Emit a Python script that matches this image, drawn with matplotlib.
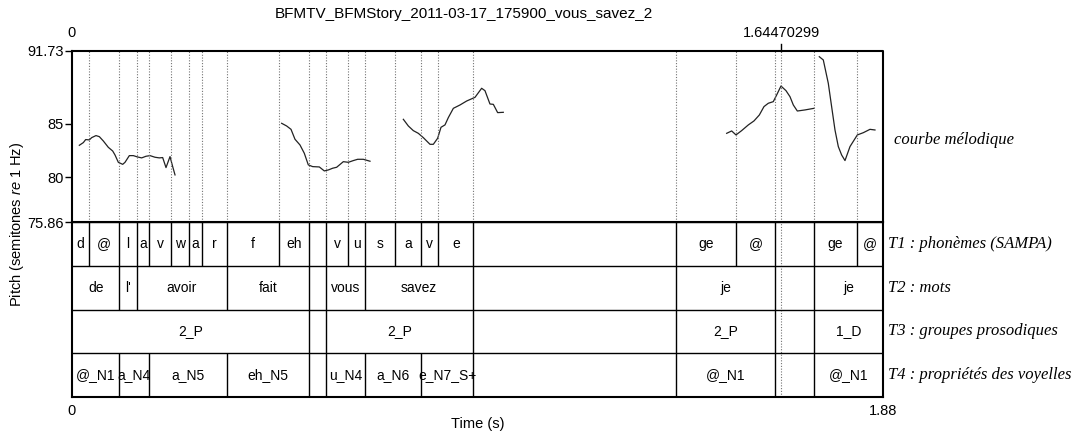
import matplotlib
matplotlib.use("Agg")
import matplotlib.pyplot as plt

plt.rcParams['font.family'] = ['Liberation Sans', 'DejaVu Sans']
plt.rcParams['mathtext.fontset'] = 'custom'
plt.rcParams['mathtext.rm'] = 'Liberation Sans'
plt.rcParams['mathtext.it'] = 'Liberation Sans:italic'

TITLE = "BFMTV_BFMStory_2011-03-17_175900_vous_savez_2"
T_END = 1.88
CURSOR = 1.64470299
PITCH_MIN, PITCH_MAX = 75.86, 91.73
pitch_ticks = [75.86, 80, 85, 91.73]
pitch_tick_labels = ["75.86", "80", "85", "91.73"]

# pitch contour (semitones re 1 Hz), one list per voiced stretch
seg1_t = [0.0170, 0.0263, 0.0317, 0.0402, 0.0456, 0.0556, 0.0634, 0.0726, 0.0842,
          0.0943, 0.0997, 0.1074, 0.1175, 0.1229, 0.1329, 0.1422, 0.1515, 0.1615,
          0.1715, 0.1808, 0.1924, 0.2024, 0.2102, 0.2179, 0.2272, 0.2334, 0.2388]
seg1_v = [82.98, 83.23, 83.51, 83.48, 83.69, 83.88, 83.78, 83.38, 82.79,
          82.45, 82.08, 81.40, 81.21, 81.40, 82.02, 82.02, 81.90, 81.81,
          81.96, 82.02, 81.87, 81.81, 81.84, 80.91, 81.93, 81.00, 80.23]
seg2_t = [0.4860, 0.4976, 0.5077, 0.5169, 0.5285, 0.5385, 0.5478, 0.5579, 0.5733,
          0.5849, 0.5942, 0.6042, 0.6135, 0.6290, 0.6406, 0.6521, 0.6622, 0.6753, 0.6908]
seg2_v = [85.02, 84.77, 84.46, 83.54, 83.01, 82.24, 81.16, 81.00, 80.97,
          80.60, 80.69, 80.85, 80.94, 81.46, 81.40, 81.56, 81.68, 81.68, 81.50]
seg3_t = [0.7681, 0.7797, 0.7912, 0.8028, 0.8144, 0.8221, 0.8299, 0.8376, 0.8476,
          0.8554, 0.8646, 0.8724, 0.8840, 0.8994, 0.9149, 0.9342, 0.9496, 0.9573,
          0.9689, 0.9767, 0.9867, 0.9998]
seg3_v = [85.39, 84.77, 84.34, 84.09, 83.69, 83.38, 83.07, 83.07, 83.63,
          84.65, 84.87, 85.55, 86.41, 86.72, 87.09, 87.43, 88.27, 88.05,
          86.81, 86.78, 86.01, 86.04]
seg4_t = [1.5176, 1.5292, 1.5392, 1.5523, 1.5678, 1.5809, 1.5933, 1.6041, 1.6141,
          1.6257, 1.6335, 1.6435, 1.6551, 1.6644, 1.6721, 1.6814, 1.6991, 1.7200]
seg4_v = [84.09, 84.31, 83.94, 84.34, 84.87, 85.24, 85.79, 86.57, 86.88,
          87.03, 87.65, 88.48, 88.05, 87.49, 86.72, 86.16, 86.26, 86.41]
seg5_t = [1.7323, 1.7416, 1.7532, 1.7609, 1.7687, 1.7764, 1.7841, 1.7919, 1.8035,
          1.8205, 1.8344, 1.8498, 1.8614]
seg5_v = [91.20, 90.90, 88.73, 86.57, 84.40, 82.86, 82.08, 81.56, 82.86,
          83.94, 84.15, 84.46, 84.40]

# TextGrid tiers: boundaries (s) and interval labels
T1_times = [0, 0.0401, 0.1096, 0.1500, 0.1792, 0.2295, 0.2705, 0.3006, 0.3600, 0.4798,
            0.5494, 0.5895, 0.6398, 0.6799, 0.7494, 0.8097, 0.8491, 0.9302, 1.4001,
            1.5399, 1.6296, 1.7200, 1.8203, 1.88]
T1_labels = ['d', '@', 'l', 'a', 'v', 'w', 'a', 'r', 'f', 'eh', '', 'v', 'u', 's', 'a',
             'v', 'e', '', 'ge', '@', '', 'ge', '@']
T2_times = [0, 0.1096, 0.1500, 0.3600, 0.5494, 0.5895, 0.6799, 0.9302, 1.4001, 1.6296,
            1.7200, 1.88]
T2_labels = ['de', "l'", 'avoir', 'fait', '', 'vous', 'savez', '', 'je', '', 'je']
T3_times = [0, 0.5494, 0.5895, 0.9302, 1.4001, 1.6296, 1.7200, 1.88]
T3_labels = ['2_P', '', '2_P', '', '2_P', '', '1_D']
T4_times = [0, 0.1096, 0.1792, 0.3600, 0.5494, 0.5895, 0.6799, 0.8097, 0.9302, 1.4001,
            1.6296, 1.7200, 1.88]
T4_labels = ['@_N1', 'a_N4', 'a_N5', 'eh_N5', '', 'u_N4', 'a_N6', 'e_N7_S+', '', '@_N1',
             '', '@_N1']
tier_names = ['T1 : phonèmes (SAMPA)', 'T2 : mots', 'T3 : groupes prosodiques',
              'T4 : propriétés des voyelles']
curve_name = 'courbe mélodique'

W, H = 1082, 437
fig = plt.figure(figsize=(W / 100, H / 100), dpi=100)
left, right = 72 / W, 883 / W
ax = fig.add_axes([left, 1 - 222 / H, right - left, 171 / H])
axt = fig.add_axes([left, 1 - 397 / H, right - left, 175 / H], sharex=ax)

# pitch part
for t, v in [(seg1_t, seg1_v), (seg2_t, seg2_v), (seg3_t, seg3_v),
             (seg4_t, seg4_v), (seg5_t, seg5_v)]:
    ax.plot(t, v, color='#222222', lw=0.9)
for b in T1_times[1:-1] + [CURSOR]:
    ax.axvline(b, color='0.45', lw=0.8, ls=(0, (1, 1.5)))
axt.axvline(CURSOR, color='0.45', lw=0.8, ls=(0, (1, 1.5)))

ax.set_xlim(0, T_END)
ax.set_ylim(PITCH_MIN, PITCH_MAX)
ax.set_yticks(pitch_ticks)
ax.set_yticklabels(pitch_tick_labels, fontsize=10.5)
ax.tick_params(axis='y', direction='out', length=5, width=1, pad=1)
ax.tick_params(axis='x', bottom=False, labelbottom=False)
for s in ['top', 'right', 'bottom']:
    ax.spines[s].set_visible(False)
ax.spines['left'].set_linewidth(1.5)

# top labels and cursor tick
xt = ax.get_xaxis_transform()
ax.text(0, 1.105, '0', transform=xt, ha='center', va='center', fontsize=10.5)
ax.text(CURSOR, 1.105, '%.8f' % CURSOR, transform=xt, ha='center', va='center',
        fontsize=10.5)
ax.plot([CURSOR, CURSOR], [1.0, 1.04], transform=xt, color='k', lw=1, clip_on=False)
fig.text((72 + 883) / 2 / W - 0.013, 1 - 14 / H, TITLE, ha='center', va='center',
         fontsize=11)

# tiers
axt.set_ylim(0, 4)
tiers = [(T1_times, T1_labels), (T2_times, T2_labels),
         (T3_times, T3_labels), (T4_times, T4_labels)]
for k, (times, labels) in enumerate(tiers):
    top, bot = 4 - k, 3 - k
    axt.vlines(times[1:-1], bot, top, color='k', lw=1)
    for a, b, lab in zip(times[:-1], times[1:], labels):
        if lab:
            axt.text((a + b) / 2, bot + 0.5, lab, ha='center', va='center', fontsize=10)
    if k > 0:
        axt.axhline(top, color='k', lw=1)
    axt.text(1.006, bot + 0.5, tier_names[k], transform=axt.get_yaxis_transform(),
             ha='left', va='center', fontsize=12, family='Liberation Serif',
             style='italic')
ax.text(1.013, 0.48, curve_name, transform=ax.transAxes, ha='left', va='center',
        fontsize=12, family='Liberation Serif', style='italic')

axt.set_yticks([])
axt.set_xticks([0, T_END])
axt.set_xticklabels(['0', '1.88'], fontsize=10.5)
axt.tick_params(axis='x', length=0, pad=5)
for s in axt.spines.values():
    s.set_linewidth(1.5)
fig.text(0.5 * (left + right), 1 - 424 / H, 'Time (s)', ha='center', va='center',
         fontsize=10.5)
fig.text(17 / W, 1 - 224 / H, 'Pitch (semitones $\\it{re}$ 1 Hz)', rotation=90,
         ha='center', va='center', fontsize=10.5)

# full frame around pitch + tiers
ax.plot([0, T_END, T_END], [PITCH_MAX, PITCH_MAX, PITCH_MIN], color='k', lw=1.5,
        clip_on=False)
axt.axhline(4, color='k', lw=1)

fig.savefig('out.png', dpi=100)
